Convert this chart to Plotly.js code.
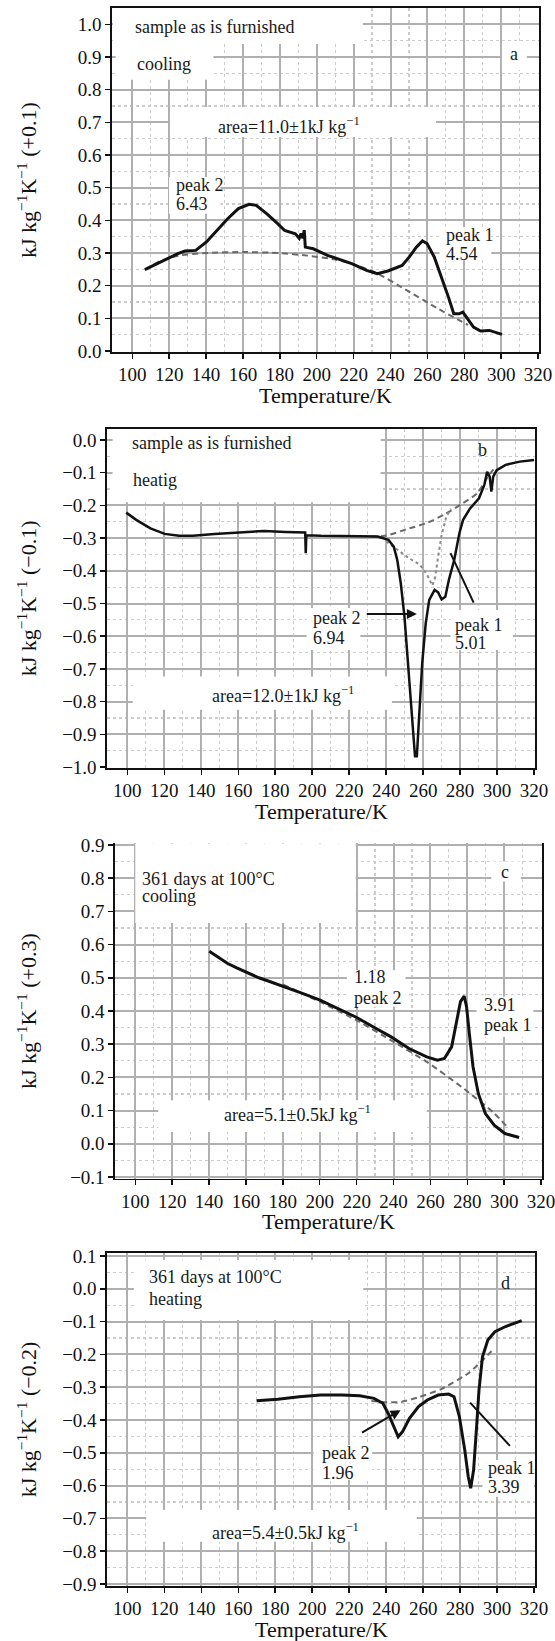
<!DOCTYPE html>
<html>
<head>
<meta charset="utf-8">
<script src="https://cdn.plot.ly/plotly-3.0.1.min.js"></script>
<style>html,body{margin:0;padding:0;background:#fff;}#chart{width:555px;height:1641px;}</style>
</head>
<body>
<div id="chart"></div>
<script>
// ---------------- data ----------------
const xTickVals = [100,120,140,160,180,200,220,240,260,280,300,320];

// panel a: sample as is furnished, cooling
const aT  = [106.8,113.1,118.9,124.7,128.6,134.4,140.2,145.9,151.7,157.5,163.3,167.2,173,178.8,182.6,188.4,190.5,191.5,192.5,193.2,193.8,198.1,205.8,213.5,219.3,227,232.8,238.6,246.3,250.2,254,257.3,259.8,263.7,267.6,271.4,274.3,277.2,279.2,281.1,285,288.8,293.6,300.4];
const aCp = [0.249,0.267,0.283,0.298,0.306,0.308,0.334,0.369,0.405,0.436,0.449,0.446,0.420,0.390,0.369,0.359,0.345,0.360,0.345,0.370,0.318,0.313,0.293,0.278,0.267,0.247,0.237,0.245,0.262,0.288,0.318,0.337,0.329,0.288,0.227,0.165,0.114,0.114,0.119,0.104,0.073,0.061,0.063,0.051];
const aBaseT  = [107,115,125,140,160,180,195,210,220,232,250,265,282];
const aBaseCp = [0.250,0.275,0.292,0.300,0.303,0.300,0.292,0.280,0.265,0.240,0.182,0.132,0.080];

// panel b: sample as is furnished, heating
const bT  = [99.4,104.8,112.5,120.2,127.9,135.5,147.1,162.4,174,185.5,196.2,196.5,196.8,204.7,223.9,235.4,241.2,244.1,246,247.9,249.9,251.8,253.7,255.6,256.6,258.1,259.5,261.4,263.3,266.2,268.1,270,272,273.9,276.8,279.6,281.6,285.4,290.2,293.1,294.6,296,296.9,297.9,299.8,304.6,312.3,320];
const bCp = [-0.222,-0.244,-0.270,-0.287,-0.293,-0.293,-0.287,-0.281,-0.278,-0.281,-0.283,-0.346,-0.291,-0.293,-0.293,-0.295,-0.305,-0.326,-0.367,-0.438,-0.540,-0.682,-0.825,-0.967,-0.967,-0.825,-0.682,-0.560,-0.489,-0.458,-0.466,-0.487,-0.479,-0.428,-0.367,-0.285,-0.244,-0.209,-0.178,-0.137,-0.097,-0.112,-0.158,-0.112,-0.092,-0.076,-0.066,-0.061];
const bBaseT  = [231.6,239.3,252.7,262.3,272,281.6,289.2,295,298];
const bBaseCp = [-0.295,-0.293,-0.270,-0.253,-0.226,-0.193,-0.163,-0.112,-0.090];
const bDotT  = [240,246,252,258,262,265,266.5,268,270,272.5,275];
const bDotCp = [-0.310,-0.335,-0.360,-0.380,-0.410,-0.445,-0.420,-0.360,-0.290,-0.235,-0.210];

// panel c: 361 days at 100 °C, cooling
const cT  = [140.1,145,150.1,155,161.7,167,173.2,180.9,185,190.6,200.2,209.8,219.5,229.1,238.7,248.4,258,263.8,267.6,271.5,274.4,276.3,278.3,279.6,281.1,283.1,286,289.8,294.6,300.4,308.1];
const cCp = [0.580,0.562,0.543,0.530,0.513,0.500,0.488,0.473,0.465,0.453,0.433,0.408,0.382,0.352,0.322,0.287,0.262,0.252,0.257,0.292,0.372,0.428,0.445,0.413,0.332,0.232,0.151,0.091,0.056,0.031,0.019];
const cBaseT  = [180,200,220,240,258,277,294,301];
const cBaseCp = [0.480,0.428,0.372,0.307,0.247,0.171,0.095,0.055];

// panel d: 361 days at 100 °C, heating
const dT  = [169.9,181.4,193,204.5,216.1,225.7,233.4,238.2,241.1,244,246.5,248.8,252.6,257.5,262.3,268.1,273.8,276.7,279.6,282.5,284.4,285.7,287.3,288.8,290.2,292.1,295,298.8,304.6,310.4,313.3];
const dCp = [-0.341,-0.337,-0.329,-0.324,-0.324,-0.326,-0.334,-0.349,-0.380,-0.420,-0.451,-0.436,-0.395,-0.359,-0.339,-0.324,-0.321,-0.329,-0.390,-0.491,-0.573,-0.608,-0.552,-0.430,-0.309,-0.207,-0.156,-0.131,-0.115,-0.103,-0.097];
const dBaseT  = [232,240,248,258,270,285,297];
const dBaseCp = [-0.342,-0.346,-0.345,-0.330,-0.305,-0.255,-0.190];

// ---------------- layout helpers ----------------
const W = 555, H = 1641;
const FONT = 'Liberation Serif, Times New Roman, serif';
function dx(l, r) { return [l / W, r / W]; }
function dy(t, b) { return [1 - b / H, 1 - t / H]; }

const panels = [
  {id:'', xpx:[112,539], ypx:[8,352],      yr:[-0.003,1.05],  mirrorX:true, ytitle:'kJ kg<sup>\u22121</sup>K<sup>\u22121</sup> (+0.1)'},
  {id:'2', xpx:[107,535], ypx:[428.6,768],  yr:[-1.003,0.035], mirrorX:true, ytitle:'kJ kg<sup>\u22121</sup>K<sup>\u22121</sup> (\u22120.1)'},
  {id:'3', xpx:[115,542], ypx:[843.3,1178.7], yr:[-0.105,0.905], mirrorX:false, ytitle:'kJ kg<sup>\u22121</sup>K<sup>\u22121</sup> (+0.3)'},
  {id:'4', xpx:[107,535], ypx:[1252.7,1586], yr:[-0.906,0.11], mirrorX:true, ytitle:'kJ kg<sup>\u22121</sup>K<sup>\u22121</sup> (\u22120.2)'}
];

const layout = {
  width: W, height: H,
  margin: {l:0, r:0, t:0, b:0},
  paper_bgcolor: '#fff', plot_bgcolor: '#fff',
  showlegend: false,
  font: {family: FONT, color: '#111'},
  annotations: [], shapes: []
};

panels.forEach(p => {
  const xa = 'xaxis' + p.id, ya = 'yaxis' + p.id;
  layout[xa] = {
    domain: dx(p.xpx[0], p.xpx[1]), anchor: 'y' + p.id,
    range: [89, 320.5], tickmode: 'array', tickvals: xTickVals,
    ticks: 'outside', ticklen: 5, tickwidth: 1.5, tickcolor: '#111',
    showline: true, linecolor: '#111', linewidth: 1.6, mirror: p.mirrorX,
    showgrid: true, gridcolor: '#b0b0b0', gridwidth: 2, zeroline: false,
    ticklabeloverflow: 'allow',
    minor: {tickvals: [110,130,150,170,190,210,230,250,270,290,310], showgrid: true, gridcolor: '#cccccc', griddash: 'dot', gridwidth: 1.2, ticks: ''},
    tickfont: {family: FONT, size: 19, color: '#111'}
  };
  layout[ya] = {
    domain: dy(p.ypx[0], p.ypx[1]), anchor: 'x' + p.id,
    range: p.yr, tick0: 0, dtick: 0.1, tickformat: '.1f',
    ticks: 'outside', ticklen: 5, tickwidth: 1.5, tickcolor: '#111',
    showline: true, linecolor: '#111', linewidth: 1.6, mirror: true,
    showgrid: true, gridcolor: '#b0b0b0', gridwidth: 2, zeroline: false,
    ticklabeloverflow: 'allow',
    minor: {dtick: 0.05, tick0: 0.05, showgrid: true, gridcolor: '#cccccc', griddash: 'dot', gridwidth: 1.2, ticks: ''},
    tickfont: {family: FONT, size: 19, color: '#111'}
  };
  // y title
  layout.annotations.push({
    xref: 'paper', yref: 'paper', x: 27 / W, y: 1 - (p.ypx[0] + p.ypx[1]) / 2 / H,
    text: p.ytitle, textangle: -90, showarrow: false,
    xanchor: 'center', yanchor: 'middle', font: {family: FONT, size: 22, color: '#111'}
  });
  // x title
  layout.annotations.push({
    xref: 'paper', yref: 'paper', x: (p.xpx[0] + p.xpx[1]) / 2 / W, y: 1 - (p.ypx[1] + 43) / H,
    text: 'Temperature/K', showarrow: false,
    xanchor: 'center', yanchor: 'middle', font: {family: FONT, size: 22, color: '#111'}
  });
});

// white masks behind text (hide grid)
function mask(id, x0, x1, y0, y1) {
  layout.shapes.push({type: 'rect', xref: 'x' + id, yref: 'y' + id, x0: x0, x1: x1, y0: y0, y1: y1,
    fillcolor: '#ffffff', line: {width: 0}, layer: 'between'});
}
mask('', 89.5, 225, 0.94, 1.05); mask('', 91, 144, 0.83, 0.94); mask('', 300.4, 313.9, 0.86, 0.94);
mask('', 120.5, 264.7, 0.655, 0.747); mask('', 119.9, 147.9, 0.42, 0.533); mask('', 266.6, 294.6, 0.278, 0.38);
mask('2', 92, 237, -0.19, 0.035); mask('2', 197, 226, -0.642, -0.514); mask('2', 274.8, 308.5, -0.642, -0.52); mask('2', 102.9, 243.1, -0.825, -0.723);
mask('3', 100, 219.5, 0.665, 0.905); mask('3', 214.7, 246.5, 0.413, 0.523); mask('3', 285, 315.8, 0.322, 0.443); mask('3', 112.5, 258, 0.036, 0.131); mask('3', 293, 309, 0.79, 0.85);
mask('4', 103.5, 227.6, -0.095, 0.088); mask('4', 200.7, 232.4, -0.583, -0.476); mask('4', 292.1, 320, -0.634, -0.522); mask('4', 110.2, 256.5, -0.771, -0.674);

// text labels
function txt(id, x, y, t, anchor) {
  layout.annotations.push({xref: 'x' + id, yref: 'y' + id, x: x, y: y, text: t, showarrow: false,
    xanchor: anchor || 'left', yanchor: 'middle', font: {family: FONT, size: 18, color: '#1a1a1a'}});
}
const KG = 'kJ kg<sup>\u22121</sup>';
txt('', 100.6, 0.992, 'sample as is furnished'); txt('', 101.2, 0.880, 'cooling'); txt('', 307.2, 0.910, 'a', 'center');
txt('', 145.6, 0.691, 'area=11.0\u00b11' + KG);
txt('', 122.4, 0.507, 'peak 2'); txt('', 122.4, 0.449, '6.43');
txt('', 269.1, 0.354, 'peak 1'); txt('', 269.1, 0.296, '4.54');

txt('2', 101.3, -0.010, 'sample as is furnished'); txt('2', 101.9, -0.122, 'heatig'); txt('2', 292, -0.030, 'b', 'center');
txt('2', 199.3, -0.545, 'peak 2'); txt('2', 199.3, -0.606, '6.94');
txt('2', 276.2, -0.565, 'peak 1'); txt('2', 276.2, -0.621, '5.01');
txt('2', 144.8, -0.779, 'area=12.0\u00b11' + KG);

txt('3', 102.3, 0.796, '361 days at 100\u00b0C'); txt('3', 102.3, 0.746, 'cooling'); txt('3', 300.4, 0.820, 'c', 'center');
txt('3', 217.5, 0.503, '1.18'); txt('3', 217.5, 0.438, 'peak 2');
txt('3', 288.2, 0.418, '3.91'); txt('3', 288.2, 0.357, 'peak 1');
txt('3', 147.2, 0.091, 'area=5.1\u00b10.5' + KG);

txt('4', 110.8, 0.037, '361 days at 100\u00b0C'); txt('4', 110.8, -0.032, 'heating'); txt('4', 304.6, 0.019, 'd', 'center');
txt('4', 204, -0.502, 'peak 2'); txt('4', 204, -0.561, '1.96');
txt('4', 294, -0.547, 'peak 1'); txt('4', 294, -0.603, '3.39');
txt('4', 144.9, -0.740, 'area=5.4\u00b10.5' + KG);

// arrows and pointer lines
function arrow(id, x0, y0, x1, y1) {
  layout.annotations.push({xref: 'x' + id, yref: 'y' + id, axref: 'x' + id, ayref: 'y' + id,
    x: x1, y: y1, ax: x0, ay: y0, text: '', showarrow: true, arrowhead: 2, arrowsize: 1, arrowwidth: 2, arrowcolor: '#111'});
}
function pline(id, x0, y0, x1, y1) {
  layout.shapes.push({type: 'line', xref: 'x' + id, yref: 'y' + id, x0: x0, y0: y0, x1: x1, y1: y1,
    line: {color: '#111', width: 2}, layer: 'above'});
}
arrow('2', 228.7, -0.532, 256.6, -0.532);
pline('2', 274.8, -0.346, 287.3, -0.497);
arrow('4', 226.1, -0.441, 247.8, -0.370);
pline('4', 285.4, -0.347, 306.9, -0.479);

// ---------------- traces ----------------
function solid(id, x, y, w) {
  return {type: 'scatter', mode: 'lines', x: x, y: y, xaxis: 'x' + id, yaxis: 'y' + id,
    line: {color: '#111', width: w || 3}, hoverinfo: 'skip'};
}
function dashed(id, x, y) {
  return {type: 'scatter', mode: 'lines', x: x, y: y, xaxis: 'x' + id, yaxis: 'y' + id,
    line: {color: '#6a6a6a', width: 2, dash: '6px,4px', shape: 'spline', smoothing: 0.6}, hoverinfo: 'skip'};
}
const traces = [
  dashed('', aBaseT, aBaseCp), solid('', aT, aCp, 3),
  dashed('2', bBaseT, bBaseCp),
  {type: 'scatter', mode: 'lines', x: bDotT, y: bDotCp, xaxis: 'x2', yaxis: 'y2',
    line: {color: '#8a8a8a', width: 2, dash: 'dot'}, hoverinfo: 'skip'},
  solid('2', bT, bCp, 2.5),
  dashed('3', cBaseT, cBaseCp), solid('3', cT, cCp, 3),
  dashed('4', dBaseT, dBaseCp), solid('4', dT, dCp, 3)
];

Plotly.newPlot('chart', traces, layout, {staticPlot: true, displayModeBar: false});
</script>
</body>
</html>
